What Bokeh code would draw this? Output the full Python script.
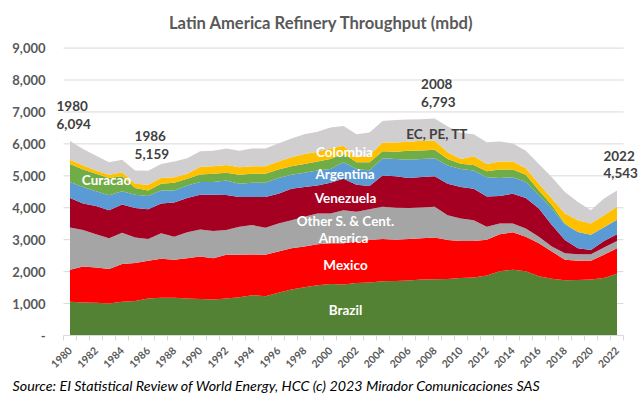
from bokeh.plotting import figure
from bokeh.models import ColumnDataSource, Range1d, FixedTicker, NumeralTickFormatter, Label, Title
from bokeh.embed import file_html
from bokeh.resources import INLINE
from math import pi

years = list(range(1980, 2023))
brazil = [1056,1035,1025,1003,1056,1077,1160,1180,1180,1160, 1140,1128,1160,1201,1263,1232,1335,1438,1511,1573,
          1614,1594,1646,1660,1698,1710,1720,1750,1760,1770, 1800,1820,1880,2009,2060,2009,1853,1780,1730,1740,
          1750,1800,1935]
mexico = [1003,1129,1108,1077,1180,1190,1179,1221,1190,1262, 1335,1294,1365,1324,1277,1293,1295,1295,1274,1284,
          1274,1294,1294,1332,1324,1290,1302,1293,1305,1222, 1160,1140,1120,1159,1170,1087,1035,850,640,599,
          589,725,798]
other = [1326,1138,1035,963,984,798,683,798,726,808, 845,849,775,881,918,850,879,879,931,963,
         932,1035,932,962,1006,1000,968,967,963,776, 705,652,406,341,279,258,208,155,208,208,
         208,229,227]
venezuela = [922,828,890,880,879,931,932,931,1065,1077, 1090,1139,1100,932,880,963,932,984,932,880,
             963,984,848,726,982,990,938,950,962,984, 983,984,944,860,932,953,879,673,414,186,
             134,206,208]
argentina = [497,519,455,466,414,414,415,414,383,393, 400,400,455,414,442,442,487,435,445,465,
             434,518,497,485,539,540,579,570,559,569, 569,569,609,559,518,497,415,517,486,507,
             476,430,454]
curacao = [569,547,549,539,477,207,175,208,239,207, 230,252,238,279,282,282,268,269,280,280,
           311,275,208,260,220,220,279,260,268,207, 160,177,181,268,237,227,154,103,31,0,
           0,0,0]
colombia = [134,125,103,103,124,135,176,176,176,155, 245,238,249,239,238,238,249,280,310,311,
            331,242,155,227,277,296,280,307,280,207, 151,269,233,249,249,207,208,208,311,372,
            352,378,406]
ecpett = [587,517,466,393,393,413,439,445,486,487, 485,486,517,516,559,559,570,590,621,621,
          653,621,724,704,672,703,694,673,696,809, 822,689,677,632,570,548,621,673,673,571,
          413,518,515]

series = ["Brazil", "Mexico", "Other", "Venezuela", "Argentina", "Curacao", "Colombia", "ECPETT"]
values = [brazil, mexico, other, venezuela, argentina, curacao, colombia, ecpett]
colors = ["#548235", "#FF0000", "#A5A5A5", "#A50021", "#5B9BD5", "#70AD47", "#FFC000", "#D0CECE"]
y_ticks = list(range(0, 9001, 1000))
x_label_years = list(range(1980, 2023, 2))
highlight_years = [1980, 1986, 2008, 2022]

data = {"year": years}
for name, vals in zip(series, values):
    data[name] = vals
src = ColumnDataSource(data)
totals = [sum(v[i] for v in values) for i in range(len(years))]

FONT = "Lato"
W, H = 643, 394
FL, FR, FT, FB = 50, 643, 0, 338          # frame edges in pixels
x0, x1 = years[0] - 0.5, years[-1] + 0.5   # category span
px_per_year = (623 - 63) / (x1 - x0)
px_per_unit = (338 - 48) / 9000
xr = Range1d(x0 - (63 - FL) / px_per_year, x1 + (FR - 623) / px_per_year)
yr_ = Range1d(0, (FB - FT) / px_per_unit)

p = figure(width=W, height=H, output_backend="svg", toolbar_location=None,
           x_range=xr, y_range=yr_,
           min_border_left=FL, min_border_right=W - FR, min_border_top=FT, min_border_bottom=H - FB)
p.outline_line_color = None
p.background_fill_color = "white"
p.border_fill_color = "white"
p.xgrid.grid_line_color = None
p.ygrid.grid_line_color = None

# grid lines limited to the category span
grid_y = y_ticks[1:]
p.segment(x0=[x0] * len(grid_y), x1=[x1] * len(grid_y), y0=grid_y, y1=grid_y,
          line_color="#D9D9D9", line_width=1)

p.varea_stack(stackers=series, x="year", color=colors, source=src)

# y axis
p.yaxis.ticker = FixedTicker(ticks=y_ticks)
p.yaxis.bounds = (0, 9000)
p.yaxis.formatter = NumeralTickFormatter(format="0,0")
p.yaxis.major_label_overrides = {0: "-"}
p.yaxis.axis_line_color = None
p.yaxis.major_tick_line_color = None
p.yaxis.minor_tick_line_color = None
p.yaxis.major_tick_out = 0
p.yaxis.major_label_standoff = 5
p.yaxis.major_label_text_font = FONT
p.yaxis.major_label_text_font_style = "bold"
p.yaxis.major_label_text_font_size = "13px"
p.yaxis.major_label_text_color = "#595959"

# x axis
p.xaxis.ticker = FixedTicker(ticks=x_label_years, minor_ticks=[y - 0.5 for y in years] + [x1])
p.xaxis.bounds = (x0, x1)
p.xaxis.major_label_orientation = pi / 4
p.xaxis.axis_line_color = "#D9D9D9"
p.xaxis.major_tick_line_color = None
p.xaxis.major_tick_out = 0
p.xaxis.minor_tick_line_color = "#D9D9D9"
p.xaxis.minor_tick_out = 5
p.xaxis.minor_tick_in = 0
p.xaxis.major_label_standoff = 8
p.xaxis.major_label_text_font = FONT
p.xaxis.major_label_text_font_style = "bold"
p.xaxis.major_label_text_font_size = "10.5px"
p.xaxis.major_label_text_color = "#595959"

def lab(x, y, text, color="white", size="13.5px", style="bold", align="center"):
    p.add_layout(Label(x=x, y=y, text=text, text_color=color, text_font=FONT,
                       text_font_size=size, text_font_style=style,
                       text_align=align, text_baseline="middle"))

def dx(px):
    return x0 + (px - 63) / px_per_year

def dy(py):
    return (338 - py) / px_per_unit

# series labels (white)
lab(dx(345), dy(312), "Brazil")
lab(dx(345), dy(267), "Mexico")
lab(dx(345), dy(222.5), "Other S. & Cent.")
lab(dx(343), dy(240), "America")
lab(dx(345), dy(199), "Venezuela")
lab(dx(344.5), dy(175), "Argentina")
lab(dx(344), dy(153), "Colombia")
lab(dx(106), dy(181), "Curacao")
lab(dx(436.5), dy(135), "EC, PE, TT", color="#404040")

# highlighted totals: year on one line, total below, above the curve
for yr in highlight_years:
    i = years.index(yr)
    left = yr - 1.04
    lab(left, totals[i] + 1090, str(yr), color="#404040", align="left")
    lab(left, totals[i] + 530, f"{totals[i]:,}", color="#404040", align="left")

# title (inside the frame area, above the grid)
lab(dx(321), dy(23), "Latin America Refinery Throughput (mbd)", color="#595959", size="16.6px")

# source line below the axis
src_title = Title(text="Source: EI Statistical Review of World Energy, HCC (c) 2023  Mirador Comunicaciones SAS",
                  align="left", offset=-38, standoff=1, text_font=FONT, text_font_style="italic",
                  text_font_size="14.3px", text_color="black")
p.add_layout(src_title, "below")

open("out.html", "w").write(file_html(p, INLINE))
